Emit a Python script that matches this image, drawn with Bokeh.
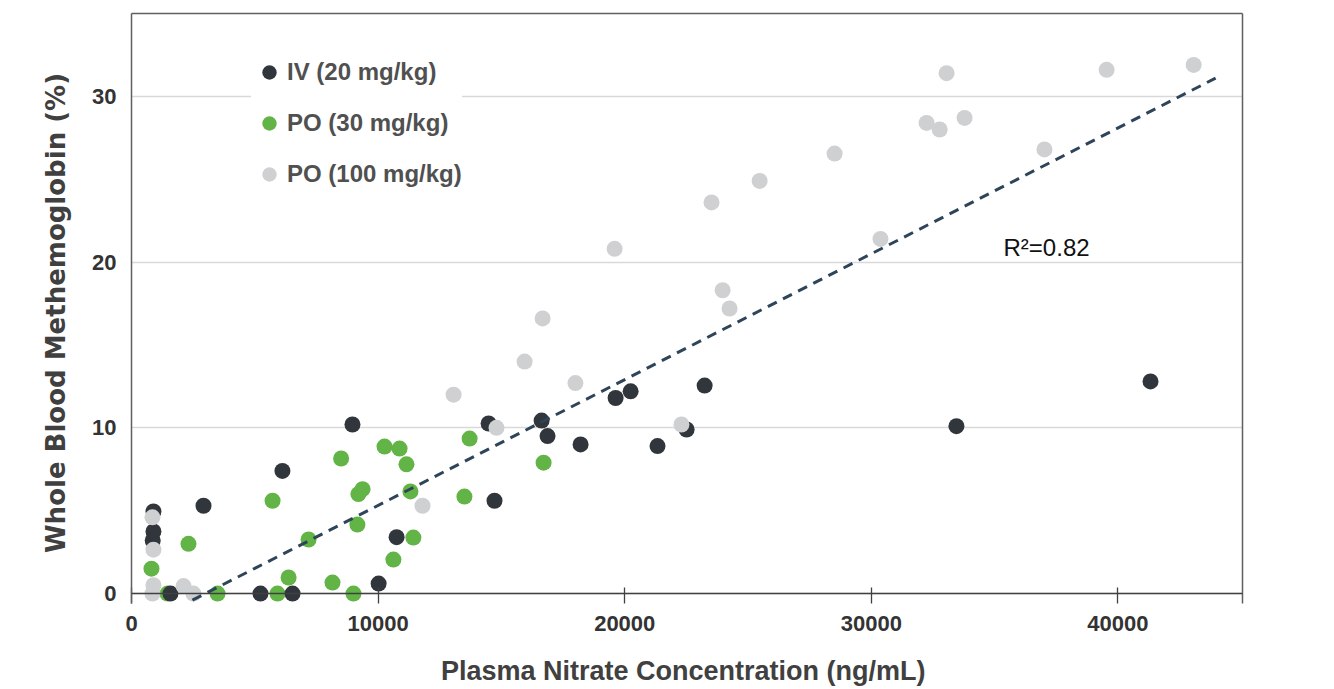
from bokeh.plotting import figure
from bokeh.models import Range1d, LinearAxis, FixedTicker, Span, Legend, LegendItem
from bokeh.core.properties import value
from bokeh.embed import file_html
from bokeh.resources import INLINE

# ---- data ----
iv_x = [890, 890, 860, 1580, 2920, 6120, 5230, 6530, 8960, 10020, 10750, 14480, 14720,
        16630, 16870, 18210, 19630, 20240, 21330, 22510, 23240, 33450, 41320]
iv_y = [4.95, 3.75, 3.2, 0.0, 5.3, 7.4, 0.0, 0.0, 10.2, 0.6, 3.4, 10.26, 5.6,
        10.44, 9.5, 9.0, 11.8, 12.2, 8.9, 9.9, 12.55, 10.1, 12.8]

po30_x = [810, 1460, 2310, 3490, 5720, 5920, 6370, 7180, 8150, 8500, 9000, 9160, 9200,
          9370, 10260, 10620, 10870, 11150, 11310, 11430, 13500, 13710, 16710]
po30_y = [1.5, 0.0, 3.0, 0.0, 5.6, 0.0, 0.97, 3.26, 0.66, 8.15, 0.0, 4.16, 6.0,
          6.3, 8.87, 2.05, 8.75, 7.8, 6.16, 3.38, 5.85, 9.35, 7.9]

po100_x = [850, 890, 890, 850, 2110, 2510, 11800, 13060, 14800, 15940, 16670, 18000,
           19590, 22300, 23520, 23970, 24250, 25470, 28510, 30370, 32240, 32770,
           33050, 33780, 37020, 39540, 43070]
po100_y = [4.6, 2.65, 0.5, 0.0, 0.45, 0.0, 5.3, 12.0, 10.0, 14.0, 16.6, 12.7,
           20.8, 10.2, 23.6, 18.3, 17.2, 24.9, 26.55, 21.4, 28.4, 28.0,
           31.4, 28.7, 26.8, 31.6, 31.9]

series_names = ["IV (20 mg/kg)", "PO (30 mg/kg)", "PO (100 mg/kg)"]

trend_x = [2470, 43960]
trend_y = [-0.4, 31.1]
r2_label = "R\u00b2=0.82"
r2_pos = (35360, 20.9)

x_ticks = [0, 10000, 20000, 30000, 40000]
y_ticks = [0, 10, 20, 30]

# ---- styling ----
NARROW = "'Liberation Sans Narrow', 'Liberation Sans', Arial, sans-serif"
SANS = "'Liberation Sans', Arial, sans-serif"
WIDE = "'DejaVu Sans', 'Liberation Sans', sans-serif"
C_IV = "#31353c"
C_PO30 = "#62b446"
C_PO100 = "#cfd0d2"
FRAME = "#5f5f5f"

p = figure(width=1308, height=689, output_backend="svg", toolbar_location=None,
           x_range=Range1d(0, 45050), y_range=Range1d(-0.6, 35.0),
           min_border_left=131, min_border_right=66, min_border_top=13,
           min_border_bottom=86)
p.outline_line_color = None
p.background_fill_color = "white"
p.border_fill_color = "white"

# x axis
xa = p.xaxis[0]
xa.ticker = FixedTicker(ticks=x_ticks)
xa.axis_line_color = None
xa.major_tick_in = 16
xa.major_tick_out = 0
xa.major_tick_line_color = "#404040"
xa.major_tick_line_width = 1.3
xa.minor_tick_line_color = None
xa.major_label_standoff = 12
xa.major_label_text_font = NARROW
xa.major_label_text_font_size = "22px"
xa.major_label_text_font_style = "bold"
xa.major_label_text_color = "#333333"
xa.axis_label = "Plasma Nitrate Concentration  (ng/mL)"
xa.axis_label_text_font = NARROW
xa.axis_label_text_font_size = "27px"
xa.axis_label_text_font_style = "bold"
xa.axis_label_text_color = "#404040"
xa.axis_label_standoff = 22

# y axis
ya = p.yaxis[0]
ya.ticker = FixedTicker(ticks=y_ticks)
ya.axis_line_color = FRAME
ya.axis_line_width = 1.5
ya.major_tick_line_color = None
ya.minor_tick_line_color = None
ya.major_label_standoff = 9
ya.major_label_text_font = NARROW
ya.major_label_text_font_size = "22px"
ya.major_label_text_font_style = "bold"
ya.major_label_text_color = "#333333"
ya.axis_label = "Whole Blood Methemoglobin  (%)"
ya.axis_label_text_font = WIDE
ya.axis_label_text_font_size = "26px"
ya.axis_label_text_font_style = "bold"
ya.axis_label_text_color = "#404040"
ya.axis_label_standoff = 18

# frame lines on top and right
for side in ("above", "right"):
    ax = LinearAxis(ticker=FixedTicker(ticks=[]), axis_line_color=FRAME, axis_line_width=1.5,
                    major_tick_line_color=None, minor_tick_line_color=None,
                    major_label_text_font_size="0px")
    p.add_layout(ax, side)

p.xgrid.grid_line_color = None
p.ygrid.ticker = FixedTicker(ticks=y_ticks)
p.ygrid.grid_line_color = "#d9d9d9"
p.ygrid.grid_line_width = 1.3

# baseline at y = 0
p.add_layout(Span(location=0, dimension="width", line_color="#404040", line_width=1.6))

# points
r30 = p.scatter(po30_x, po30_y, size=16, color=C_PO30, line_color=None)
riv = p.scatter(iv_x, iv_y, size=16, color=C_IV, line_color=None)
r100 = p.scatter(po100_x, po100_y, size=16, color=C_PO100, line_color=None)

# trend line
p.line(trend_x, trend_y, line_color="#2e4559", line_width=3, line_dash="10 7")

# R^2 label
p.text(x=[r2_pos[0]], y=[r2_pos[1]], text=[r2_label], text_font=value(SANS),
       text_font_size="24px", text_color="#111111", text_align="left",
       text_baseline="middle")

legend = Legend(items=[LegendItem(label=series_names[0], renderers=[riv]),
                       LegendItem(label=series_names[1], renderers=[r30]),
                       LegendItem(label=series_names[2], renderers=[r100])],
                location=(120, 411), orientation="vertical")
legend.glyph_width = 36
legend.glyph_height = 36
legend.label_height = 36
legend.spacing = 15
legend.padding = 2
legend.margin = 0
legend.label_standoff = 0
legend.border_line_color = None
legend.background_fill_color = "white"
legend.background_fill_alpha = 1.0
legend.label_text_font = NARROW
legend.label_text_font_size = "24px"
legend.label_text_color = "#505050"
legend.label_text_font_style = "bold"
p.add_layout(legend)

open("out.html", "w").write(file_html(p, INLINE))
